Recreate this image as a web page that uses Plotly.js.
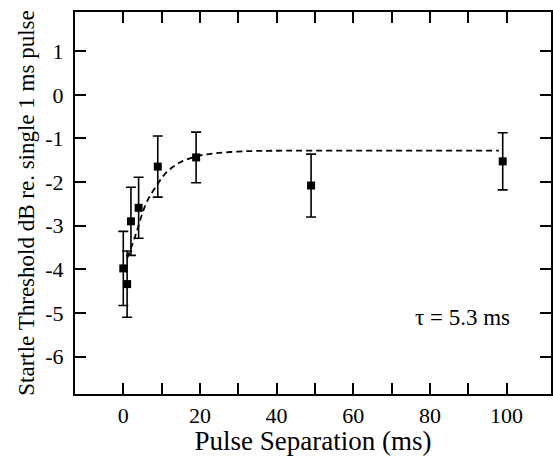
<!DOCTYPE html>
<html>
<head>
<meta charset="utf-8">
<script src="https://cdn.plot.ly/plotly-3.0.1.min.js"></script>
<style>
  html, body { margin: 0; padding: 0; background: #fff; }
  #chart { width: 553px; height: 456px; }
</style>
</head>
<body>
<div id="chart"></div>
<script>
// Measured startle thresholds vs. separation between the two pulses
const separationMs = [0, 1, 2, 4, 9, 19, 49, 99];
const thresholdDb  = [-3.98, -4.34, -2.90, -2.59, -1.645, -1.435, -2.08, -1.525];
const thresholdErr = [0.85, 0.76, 0.78, 0.70, 0.70, 0.58, 0.72, 0.655];

// Exponential recovery fit (tau = 5.3 ms), sampled along the curve
const fitX = [1, 3, 6, 9, 11, 13, 15, 19, 24, 30, 36, 50, 70, 98];
const fitY = [-3.75, -3.27, -2.48, -2.04, -1.80, -1.65, -1.54, -1.41, -1.34, -1.30, -1.285, -1.28, -1.28, -1.28];

const xTickVals = [0, 10, 20, 30, 40, 50, 60, 70, 80, 90, 100];
const xTickText = ['0', '', '20', '', '40', '', '60', '', '80', '', '100'];
const yTickVals = [-6, -5, -4, -3, -2, -1, 0, 1];
const yTickText = ['-6', '-5', '-4', '-3', '-2', '-1', '0', '1'];
const tauLabel = '\u03c4 = 5.3 ms';

const serif = '"Liberation Serif", "Times New Roman", serif';

const traces = [
  {
    x: fitX, y: fitY,
    type: 'scatter', mode: 'lines',
    line: { color: '#000', width: 1.8, dash: '6px,4px', shape: 'spline', smoothing: 1 },
    hoverinfo: 'skip', showlegend: false
  },
  {
    x: separationMs, y: thresholdDb,
    type: 'scatter', mode: 'markers',
    marker: { symbol: 'square', size: 8, color: '#000' },
    error_y: { type: 'data', array: thresholdErr, visible: true, color: '#000', thickness: 1.6, width: 5 },
    showlegend: false
  }
];

const axisCommon = {
  showline: true, linecolor: '#000', linewidth: 2,
  mirror: 'ticks', ticks: 'inside', ticklen: 11, tickwidth: 2, tickcolor: '#000',
  showgrid: false, zeroline: false,
  tickfont: { family: serif, size: 22, color: '#000' }
};

const layout = {
  width: 553, height: 456,
  margin: { l: 75, r: 2, t: 12, b: 62 },
  paper_bgcolor: '#fff', plot_bgcolor: '#fff',
  xaxis: Object.assign({}, axisCommon, {
    range: [-12.6, 111.6],
    tickmode: 'array', tickvals: xTickVals, ticktext: xTickText,
    ticklabelstandoff: 1,
    title: { text: 'Pulse Separation (ms)', font: { family: serif, size: 27, color: '#000' }, standoff: 2 }
  }),
  yaxis: Object.assign({}, axisCommon, {
    range: [-6.86, 1.9],
    tickmode: 'array', tickvals: yTickVals, ticktext: yTickText,
    ticklabelstandoff: 5,
    title: { text: 'Startle Threshold dB re. single 1 ms pulse', font: { family: serif, size: 23, color: '#000' }, standoff: 4 }
  }),
  annotations: [{
    x: 88.4, y: -5.11, xref: 'x', yref: 'y',
    text: tauLabel, showarrow: false,
    xanchor: 'center', yanchor: 'middle',
    font: { family: serif, size: 23, color: '#000' }
  }]
};

Plotly.newPlot('chart', traces, layout, { displayModeBar: false, staticPlot: true });
</script>
</body>
</html>
